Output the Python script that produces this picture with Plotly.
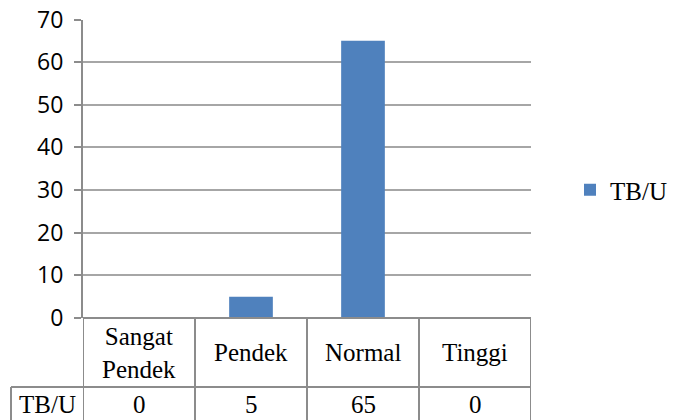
import plotly.graph_objects as go

# Chart data
categories = ["Sangat Pendek", "Pendek", "Normal", "Tinggi"]
category_labels = ["Sangat<br>Pendek", "Pendek", "Normal", "Tinggi"]
series_name = "TB/U"
values = [0, 5, 65, 0]
y_ticks = [0, 10, 20, 30, 40, 50, 60, 70]

W, H = 673, 420
BAR = "#4F81BD"
GRID = "#a6a6a6"
BORDER = "#8c8c8c"
SERIF = "Liberation Serif"
SANS = "Open Sans"
TABLE_SIZE = 25


def px(x):
    return x / W


def py(y):
    return 1 - y / H


plot_left, plot_right = 83, 531
plot_top, plot_bottom = 19.5, 318
row_split = 387
table_bottom = 420
label_left = 11

fig = go.Figure()
fig.add_trace(go.Bar(
    x=list(range(len(categories))),
    y=values,
    name=series_name,
    marker=dict(color=BAR, line=dict(width=0)),
    hovertext=categories,
))

shapes = []
n = len(categories)
# table top (category axis line)
shapes.append(dict(type="line", xref="paper", yref="paper",
                   x0=px(plot_left), x1=px(plot_right), y0=py(plot_bottom), y1=py(plot_bottom),
                   line=dict(color=BORDER, width=2)))
# row divider, extending under the series label cell
shapes.append(dict(type="line", xref="paper", yref="paper",
                   x0=px(label_left), x1=px(plot_right), y0=py(row_split), y1=py(row_split),
                   line=dict(color=BORDER, width=2)))
# column borders at category boundaries
for i in range(n + 1):
    shapes.append(dict(type="line", xref="x", yref="paper",
                       x0=i - 0.5, x1=i - 0.5, y0=py(plot_bottom), y1=py(table_bottom),
                       line=dict(color=BORDER, width=2)))
# left border of the series label cell
shapes.append(dict(type="line", xref="paper", yref="paper",
                   x0=px(label_left), x1=px(label_left), y0=py(row_split), y1=py(table_bottom),
                   line=dict(color=BORDER, width=2)))

table_font = dict(family=SERIF, size=TABLE_SIZE, color="black")
annotations = []
header_mid = (plot_bottom + row_split) / 2
value_mid = (row_split + table_bottom) / 2 + 1
for i, (lab, v) in enumerate(zip(category_labels, values)):
    annotations.append(dict(x=i, xref="x", y=py(header_mid), yref="paper",
                            text=lab, showarrow=False, xanchor="center", yanchor="middle",
                            font=table_font))
    annotations.append(dict(x=i, xref="x", y=py(value_mid), yref="paper",
                            text=str(v), showarrow=False, xanchor="center", yanchor="middle",
                            font=table_font))
annotations.append(dict(x=px((label_left + plot_left) / 2), xref="paper", y=py(value_mid), yref="paper",
                        text=series_name, showarrow=False, xanchor="center", yanchor="middle",
                        font=table_font))

fig.update_layout(
    width=W, height=H,
    margin=dict(l=0, r=0, t=0, b=0, autoexpand=False),
    paper_bgcolor="white", plot_bgcolor="white",
    font=dict(family=SERIF, color="black"),
    bargap=0.61,
    showlegend=True,
    legend=dict(x=px(570), y=py(190), xanchor="left", yanchor="middle",
                font=table_font, bgcolor="rgba(0,0,0,0)"),
    xaxis=dict(domain=[px(plot_left), px(plot_right)], range=[-0.5, n - 0.5],
               showticklabels=False, ticks="", showgrid=False, zeroline=False,
               showline=False, fixedrange=True, automargin=False),
    yaxis=dict(domain=[py(plot_bottom), py(plot_top)], range=[0, 70],
               tickvals=y_ticks,
               ticks="outside", ticklen=7, tickwidth=2, tickcolor=BORDER,
               ticklabelstandoff=6,
               tickfont=dict(family=SANS, size=23, color="black"),
               showgrid=True, gridcolor=GRID, gridwidth=1.5,
               zeroline=False, showline=True, linecolor=BORDER, linewidth=2,
               fixedrange=True, automargin=False),
    shapes=shapes,
    annotations=annotations,
)

fig.write_html("out.html")
